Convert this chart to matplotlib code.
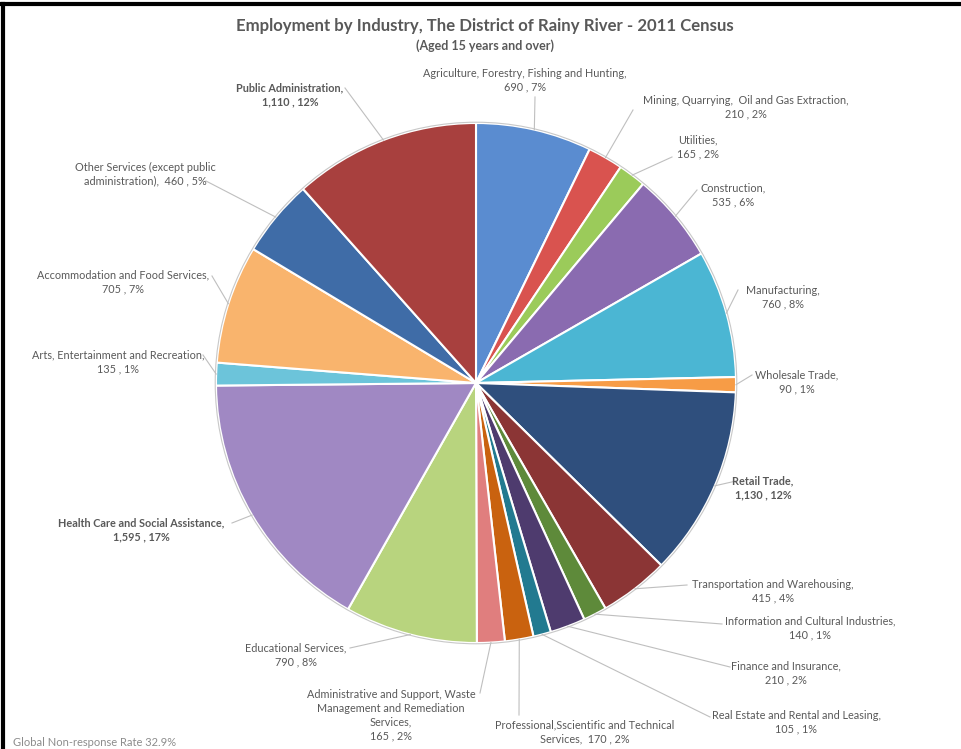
import numpy as np
import matplotlib
matplotlib.use('Agg')
import matplotlib.pyplot as plt

plt.rcParams['font.family'] = ['Lato', 'DejaVu Sans']

categories = ['Agriculture, Forestry, Fishing and Hunting',
              'Mining, Quarrying,  Oil and Gas Extraction',
              'Utilities', 'Construction', 'Manufacturing', 'Wholesale Trade',
              'Retail Trade', 'Transportation and Warehousing',
              'Information and Cultural Industries', 'Finance and Insurance',
              'Real Estate and Rental and Leasing',
              'Professional,Sscientific and Technical Services',
              'Administrative and Support, Waste Management and Remediation Services',
              'Educational Services', 'Health Care and Social Assistance',
              'Arts, Entertainment and Recreation', 'Accommodation and Food Services',
              'Other Services (except public administration)', 'Public Administration']
values = [690, 210, 165, 535, 760, 90, 1130, 415, 140, 210, 105, 170, 165,
          790, 1595, 135, 705, 460, 1110]
colors = ['#5A8CD0', '#D9534F', '#9BCB5A', '#8A6BB0', '#4BB6D3', '#F79C46',
          '#2F4F7D', '#8B3535', '#5E8A3A', '#4E3B6E', '#227A90', '#C9620F',
          '#E07E7E', '#B8D47E', '#A088C3', '#6CC4DA', '#F9B46D', '#3F6CA7',
          '#A8403E']
bold_labels = ['Public Administration', 'Retail Trade', 'Health Care and Social Assistance']

# label text layout (wrapped like the original)
label_names = {
    'Other Services (except public administration)': 'Other Services (except public\nadministration),  {v} , {p}%',
    'Professional,Sscientific and Technical Services': 'Professional,Sscientific and Technical\nServices,  {v} , {p}%',
    'Administrative and Support, Waste Management and Remediation Services':
        'Administrative and Support, Waste\nManagement and Remediation\nServices,\n{v} , {p}%',
}

# label centre and leader anchor positions in pixels (x, y from top-left)
label_pos = [(525, 80), (746, 107), (698, 147), (733, 195), (783, 297), (797, 382),
             (763, 488), (773, 591), (810, 628), (786, 673), (796, 722), (585, 732),
             (391, 715), (296, 655), (141, 530), (118, 362), (123, 282), (145, 174),
             (290, 95)]
anchor_pos = [(535, 97), (633, 110), (672, 157), (697, 190), (738, 290), (752, 375),
              (736, 481), (687, 585), (722, 624), (730, 667), (710, 717), (519, 715),
              (480, 693), (350, 648), (232, 523), (203, 355), (212, 276), (206, 181),
              (345, 88)]

W, H = 961, 749
cx, cy, R = 476, 383, 260

fig = plt.figure(figsize=(W / 100, H / 100), dpi=100, facecolor='white')
ax = fig.add_axes([0, 0, 1, 1])


def px(p):
    return ((p[0] - cx) / R, (cy - p[1]) / R)


wedges, _ = ax.pie(values, colors=colors, startangle=90, counterclock=False,
                   radius=1.0, wedgeprops=dict(edgecolor='white', linewidth=1.5))
ax.add_patch(plt.Circle((0, 0), 1.003, fill=False, edgecolor='#C8C8C8', linewidth=0.8))
ax.set_xlim(-cx / R, (W - cx) / R)
ax.set_ylim(-(H - cy) / R, cy / R)
ax.axis('off')

total = sum(values)
for w, name, v, lp, ap in zip(wedges, categories, values, label_pos, anchor_pos):
    pct = round(v / total * 100)
    tmpl = label_names.get(name, name + ',\n{v} , {p}%')
    txt = tmpl.format(v=f'{v:,}', p=pct)
    mid = np.deg2rad((w.theta1 + w.theta2) / 2)
    edge = (np.cos(mid), np.sin(mid))
    a = px(ap)
    ax.plot([edge[0], a[0]], [edge[1], a[1]], color='#BFBFBF', linewidth=0.8)
    x, y = px(lp)
    ax.text(x, y, txt, ha='center', va='center', fontsize=7.8, color='#595959',
            fontweight='bold' if name in bold_labels else 'normal', linespacing=1.33)

fig.text(485 / W, 1 - 26 / H, 'Employment by Industry, The District of Rainy River - 2011 Census',
         ha='center', va='center', fontsize=12.1, fontweight='bold', color='#595959')
fig.text(485 / W, 1 - 46 / H, '(Aged 15 years and over)',
         ha='center', va='center', fontsize=9, fontweight='bold', color='#595959')
fig.text(13 / W, 1 - 742 / H, 'Global Non-response Rate 32.9%',
         ha='left', va='center', fontsize=8, color='#8C8C8C')

# screenshot frame on top and left
fig.add_artist(plt.Line2D([2 / W, 1], [1 - 3.5 / H, 1 - 3.5 / H], color='black', linewidth=3,
                          transform=fig.transFigure))
fig.add_artist(plt.Line2D([2.5 / W, 2.5 / W], [0, 1 - 3.5 / H], color='black', linewidth=3,
                          transform=fig.transFigure))

fig.savefig('out.png', dpi=100, facecolor='white')
